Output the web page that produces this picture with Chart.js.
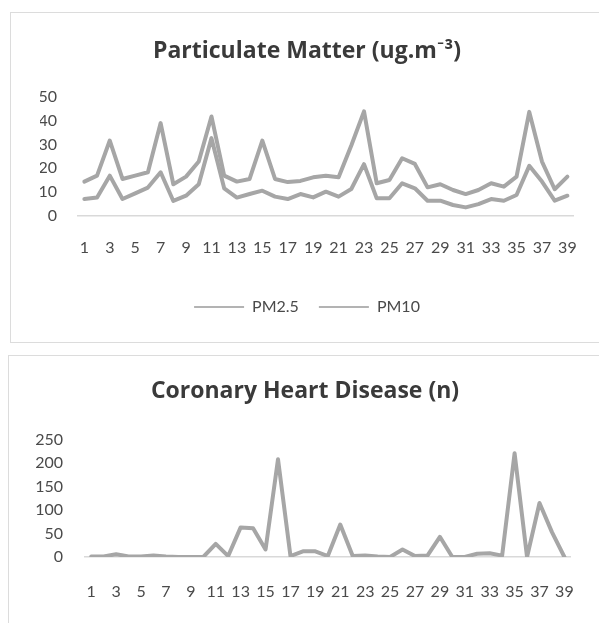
<!DOCTYPE html>
<html>
<head>
<meta charset="utf-8">
<script src="https://cdn.jsdelivr.net/npm/chart.js@4.4.1/dist/chart.umd.min.js"></script>
<style>
  body { margin: 0; background: #fff; width: 599px; height: 623px; overflow: hidden; position: relative; }
  .box { position: absolute; border: 1px solid #dcdcdc; box-sizing: border-box; }
  canvas { position: absolute; left: 0; }
</style>
</head>
<body>
<div class="box" style="left:10px; top:12px; width:600px; height:331px;"></div>
<div class="box" style="left:8px; top:355px; width:600px; height:300px;"></div>
<canvas id="pmChart" width="599" height="343" style="top:0px;"></canvas>
<canvas id="chdChart" width="599" height="280" style="top:343px;"></canvas>
<script>
// day numbers along the x axis
const days = [];
for (let d = 1; d <= 39; d++) days.push(String(d));

// values
const pm25 = [7.1, 7.7, 16.9, 7.1, 9.5, 11.9, 18.3, 6.3, 8.5, 13.3,
              32.6, 11.6, 7.7, 9.2, 10.6, 8.1, 7.1, 9.2, 7.8, 10.2,
              8.1, 11.3, 21.7, 7.4, 7.4, 13.7, 11.6, 6.4, 6.4, 4.6,
              3.6, 5.0, 7.1, 6.4, 8.8, 21.0, 14.4, 6.4, 8.5];
const pm10 = [14.4, 16.9, 31.6, 15.5, 16.9, 18.3, 38.9, 13.3, 16.5, 22.8,
              41.7, 16.9, 14.4, 15.5, 31.6, 15.5, 14.2, 14.7, 16.2, 16.9,
              16.2, 29.5, 43.8, 13.7, 15.1, 24.2, 21.8, 12.0, 13.3, 10.9,
              9.2, 10.9, 13.7, 12.3, 16.5, 43.6, 22.8, 11.2, 16.5];
const chd = [1, 1, 6, 1, 1, 3, 1, 0, 0, 0,
             28, 2, 63, 61, 16, 208, 2, 12, 12, 2,
             69, 2, 3, 1, 0, 16, 2, 3, 43, 0,
             0, 7, 8, 3, 221, 0, 115, 53, 0];

const lineGrey = '#a6a6a6';
const tickColor = '#4a4a4a';
const fontName = 'Lato, "Open Sans", sans-serif';
const titleFont = '"Open Sans", Lato, sans-serif';

function xAxis(pad, height) {
    return {
        offset: true,
        grid: { display: false, drawTicks: false },
        border: { display: true, color: '#d9d9d9', width: 1.5 },
        ticks: {
            color: tickColor,
            font: { family: fontName, size: 16 },
            padding: pad,
            autoSkip: false,
            maxRotation: 0,
            minRotation: 0,
            callback: function(value, index) {
                return index % 2 === 0 ? this.getLabelForValue(value) : '';
            }
        },
        afterFit: function(scale) { scale.height = height; }
    };
}

function yAxis(max, step, pad, width) {
    return {
        min: 0,
        max: max,
        grid: { display: false, drawTicks: false },
        border: { display: false },
        ticks: {
            stepSize: step,
            color: tickColor,
            font: { family: fontName, size: 16 },
            padding: pad
        },
        afterFit: function(scale) { scale.width = width; }
    };
}

function titleOpts(text, top, bottom) {
    return {
        display: true,
        text: text,
        color: '#3a3a3a',
        font: { family: titleFont, size: 23, weight: 'bold', lineHeight: 1.2 },
        padding: { top: top, bottom: bottom }
    };
}

function series(label, values) {
    return {
        label: label,
        data: values,
        borderColor: lineGrey,
        backgroundColor: lineGrey,
        borderWidth: 4,
        borderJoinStyle: 'round',
        borderCapStyle: 'round',
        pointRadius: 0,
        tension: 0
    };
}

new Chart(document.getElementById('pmChart'), {
    type: 'line',
    data: {
        labels: days,
        datasets: [series('PM2.5', pm25), series('PM10', pm10)]
    },
    options: {
        responsive: false,
        animation: false,
        layout: { padding: { left: 40, right: 25, top: 20, bottom: 18 } },
        plugins: {
            title: titleOpts('Particulate Matter (ug.m\u207B\u00B3)', 18, 31),
            legend: {
                position: 'bottom',
                labels: {
                    boxWidth: 50,
                    boxHeight: 1.5,
                    padding: 20,
                    color: tickColor,
                    font: { family: fontName, size: 16 },
                    generateLabels: function(chart) {
                        const items = Chart.defaults.plugins.legend.labels.generateLabels(chart);
                        items.forEach(it => { it.fillStyle = '#9a9a9a'; it.lineWidth = 0; });
                        return items;
                    }
                }
            },
            tooltip: { enabled: false }
        },
        scales: {
            x: xAxis(22, 63),
            y: yAxis(50, 10, 21, 38)
        }
    }
});

new Chart(document.getElementById('chdChart'), {
    type: 'line',
    data: {
        labels: days,
        datasets: [series('CHD', chd)]
    },
    options: {
        responsive: false,
        animation: false,
        layout: { padding: { left: 36, right: 25, top: 20, bottom: 21 } },
        plugins: {
            title: titleOpts('Coronary Heart Disease (n)', 15, 34),
            legend: { display: false },
            tooltip: { enabled: false }
        },
        scales: {
            x: xAxis(25, 45),
            y: yAxis(250, 50, 22, 49)
        }
    }
});
</script>
</body>
</html>
